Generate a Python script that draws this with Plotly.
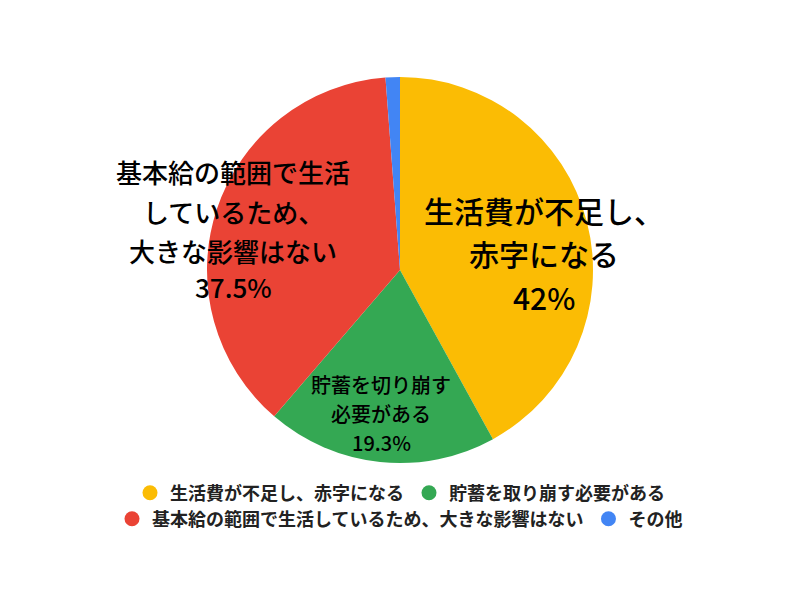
import plotly.graph_objects as go

# ---- data ----
categories = ["生活費が不足し、赤字になる", "貯蓄を取り崩す必要がある",
              "基本給の範囲で生活しているため、大きな影響はない", "その他"]
values = [42, 19.3, 37.5, 1.2]
colors = ["#FBBC04", "#34A853", "#EA4335", "#4285F4"]
slice_label_lines = [["生活費が不足し、", "赤字になる"],
                     ["貯蓄を切り崩す", "必要がある"],
                     ["基本給の範囲で生活", "しているため、", "大きな影響はない"],
                     []]
legend_rows = [1, 1, 2, 2]

FONT = "Noto Sans CJK JP"
W, H = 800, 600

fig = go.Figure()

# pie geometry (pixels)
cx, cy, r = 400, 270, 193
fig.add_trace(go.Pie(
    labels=categories, values=values, sort=False, direction="clockwise", rotation=0,
    marker=dict(colors=colors, line=dict(width=0)), textinfo="none",
    showlegend=False, hoverinfo="label+percent",
    domain=dict(x=[(cx - r) / W, (cx + r) / W], y=[1 - (cy + r) / H, 1 - (cy - r) / H]),
))

# legend entries with circle markers
for name, col, row in zip(categories, colors, legend_rows):
    fig.add_trace(go.Scatter(
        x=[None], y=[None], mode="markers", name=name,
        marker=dict(color=col, size=15, symbol="circle"),
        legend="legend" if row == 1 else "legend2",
    ))

# slice labels: (center x px, line y px list, font size)
label_layout = [
    (544, [210, 253, 297], 30),
    (381, [384, 413, 442], 20),
    (233, [172, 211, 250, 286], 26),
    None,
]
for lines, v, lay in zip(slice_label_lines, values, label_layout):
    if lay is None:
        continue
    xpx, ys, fs = lay
    texts = lines + [f"{v:g}%"]
    for t, ypx in zip(texts, ys):
        fig.add_annotation(
            x=xpx / W, y=1 - ypx / H, xref="paper", yref="paper",
            text=t, showarrow=False, xanchor="center", yanchor="middle",
            font=dict(family=FONT, size=fs, color="#000000", weight=500),
        )

legend_common = dict(
    orientation="h", xanchor="center", x=0.5, yanchor="middle",
    font=dict(family=FONT, size=18, color="#222222", weight="bold"),
    bgcolor="rgba(0,0,0,0)", borderwidth=0, itemclick=False,
)
fig.update_layout(
    width=W, height=H, margin=dict(l=0, r=0, t=0, b=0),
    paper_bgcolor="white", plot_bgcolor="white",
    xaxis=dict(visible=False), yaxis=dict(visible=False),
    legend=dict(**legend_common, y=1 - 493 / H),
    legend2=dict(**legend_common, y=1 - 519 / H),
    font=dict(family=FONT),
)

fig.write_html("out.html")
